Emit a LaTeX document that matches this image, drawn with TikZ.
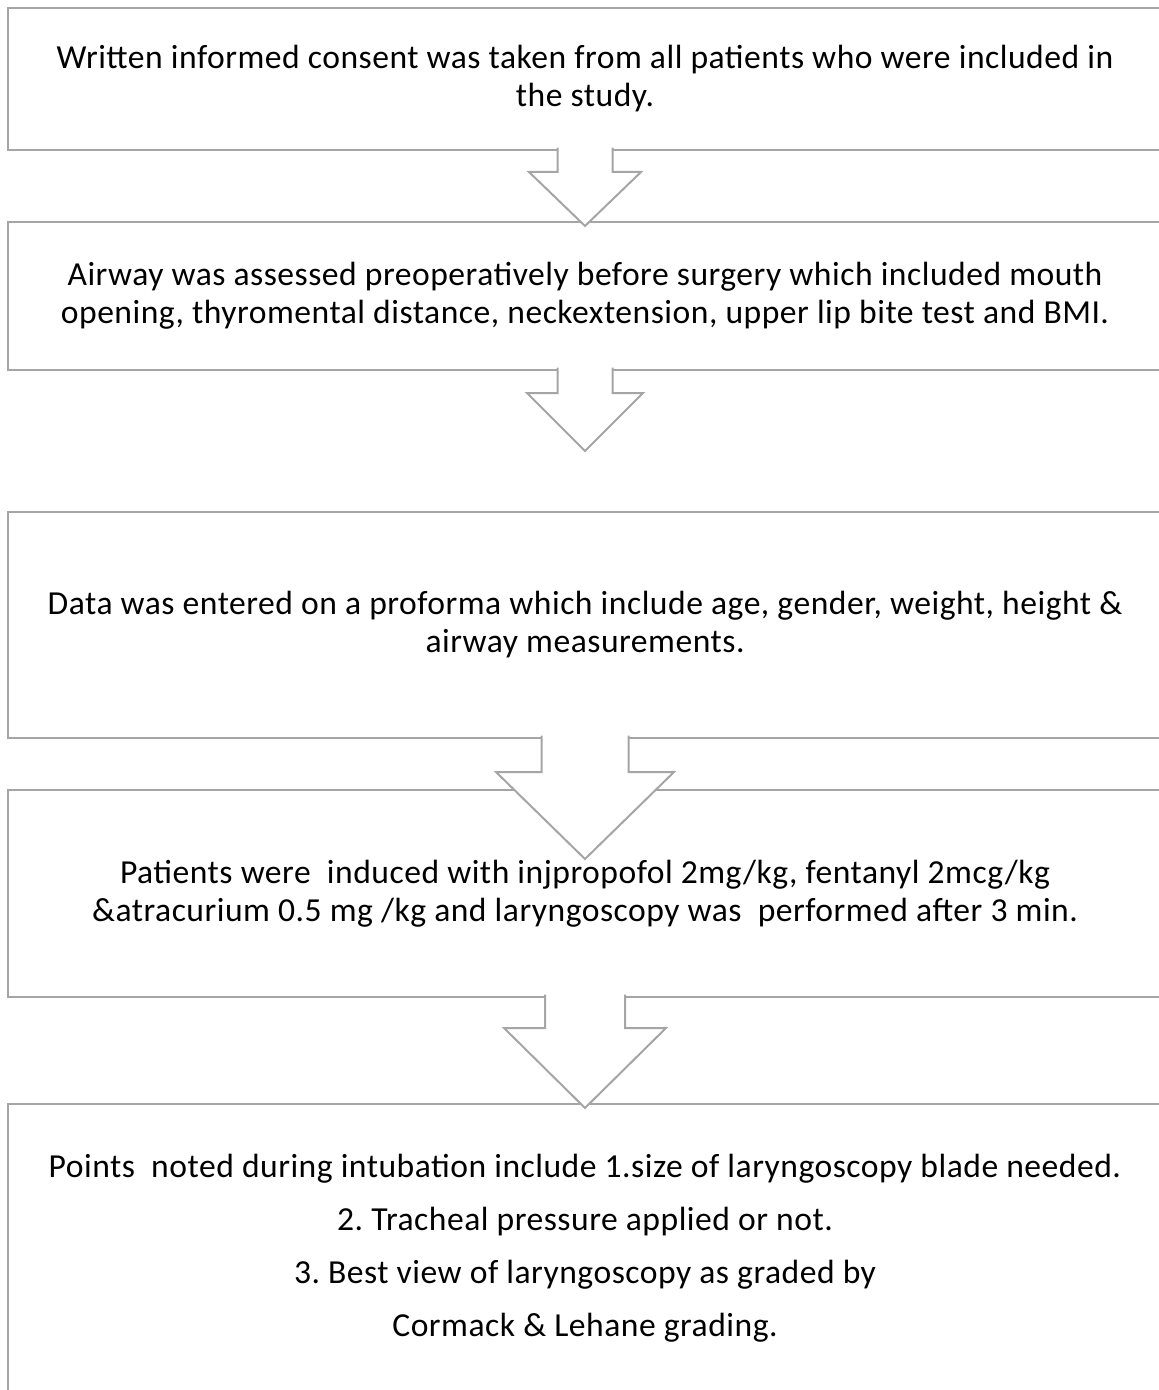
\documentclass[tikz,border=0pt]{standalone}
\usepackage{fontspec}
\setmainfont{Carlito}[LetterSpace=1.5]
\usepackage{tikz}
\usetikzlibrary{calc, positioning}
\frenchspacing
\definecolor{linegray}{RGB}{165, 165, 165}
\tikzset{
    flowbox/.style = {draw=linegray, line width=1pt, rectangle, fill=white, outer sep=0pt, 
      minimum width=577pt, inner sep=0em, node distance=0em, align=center, 
      font=\fontsize{16.8pt}{19pt}\selectfont},
    arrowshape/.style = {draw=linegray, fill=white, line width=1pt, line join=miter}
}
\newcommand{\flowarrow}[5]{%
    \filldraw[arrowshape] let \p1 = (#1.south), \p2 = (#2) in
      (\x1-#3,\y1+1.2pt) -- (\x1-#3,\y2+#5) -- (\x1-#4,\y2+#5) -- (\x2,\y2)
      -- (\x1+#4,\y2+#5) -- (\x1+#3,\y2+#5) -- (\x1+#3,\y1+1.2pt);}
\begin{document}
\begin{tikzpicture}[x=0.5pt, y=-0.5pt]
    \useasboundingbox (0,0) rectangle (1159,1390);
    \clip (0,0) rectangle (1159,1390);

    \node [name = b1, flowbox, minimum height=71pt, anchor=north] at (585,8) 
        {Written informed consent was taken from all patients who were included in\\ the study.};
    \node [name = b2, flowbox, minimum height=74pt, below = 36pt of b1] 
        {Airway was assessed preoperatively before surgery which included mouth\\ 
         opening, thyromental distance, neckextension, upper lip bite test and BMI.};
    \node [name = b3, flowbox, minimum height=113pt, below = 71pt of b2] 
        {Data was entered on a proforma which include age, gender, weight, height \&\\ 
         airway measurements.};
    \node [name = b4, flowbox, minimum height=103.5pt, below = 26pt of b3] 
        {Patients were\ \ induced with injpropofol 2mg/kg, fentanyl 2mcg/kg\\ 
         \&atracurium 0.5 mg /kg and laryngoscopy was\ \ performed after 3 min.};
    \node [name = b5, flowbox, minimum height=144pt, below = 53.5pt of b4] 
        {Points\ \ noted during intubation include 1.size of laryngoscopy blade needed.\\[7.5pt] 
         2. Tracheal pressure applied or not.\\[7.5pt] 
         3. Best view of laryngoscopy as graded by\\[7.5pt] 
         Cormack \& Lehane grading.};

    \coordinate (t1) at ($(b2.north)+(0,-2pt)$);
    \coordinate (t2) at ($(b2.south)+(0,-40.5pt)$);
    \coordinate (t3) at ($(b4.north)+(0,-34.5pt)$);
    \coordinate (t4) at ($(b5.north)+(0,-2pt)$);

    \flowarrow{b1}{t1}{13.75pt}{28pt}{27pt}
    \flowarrow{b2}{t2}{13.75pt}{29pt}{29pt}
    \flowarrow{b3}{t3}{21.75pt}{44.5pt}{43.5pt}
    \flowarrow{b4}{t4}{20pt}{40.5pt}{40pt}
\end{tikzpicture}
\end{document}
